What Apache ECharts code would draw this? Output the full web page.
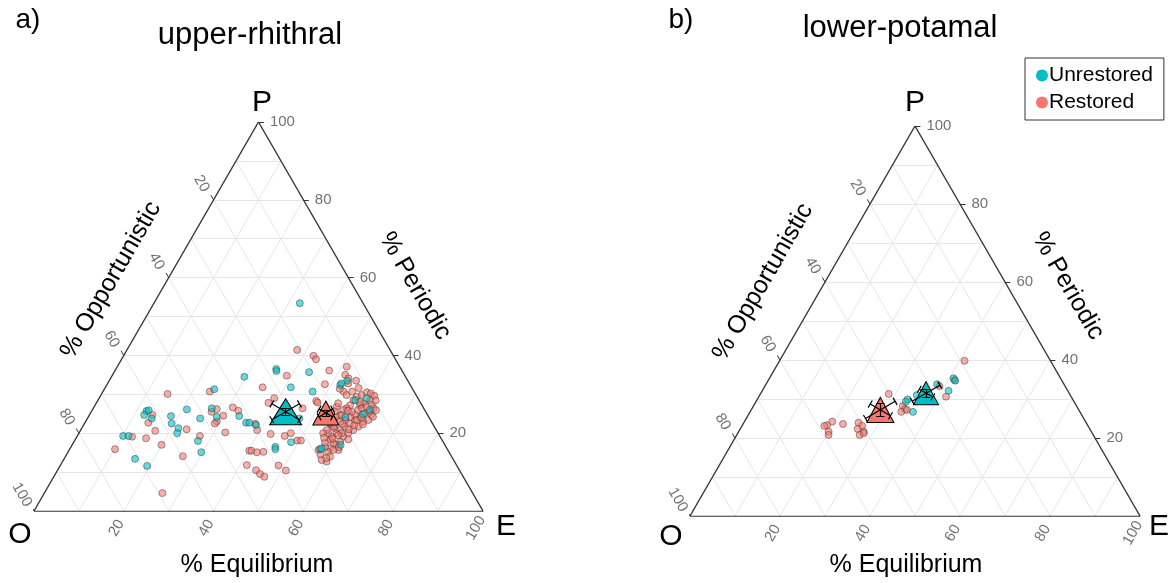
<!DOCTYPE html>
<html>
<head>
<meta charset="utf-8">
<script src="https://cdn.jsdelivr.net/npm/echarts@6/dist/echarts.min.js"></script>
<style>
  html, body { margin: 0; background: #fff; }
  #chart { width: 1173px; height: 583px; }
</style>
</head>
<body>
<div id="chart"></div>
<script>
// ternary values are [E, P]; O = 100 - E - P
const unrestoredA = [
  [24.5,31.3],[12.2,25.7],[12.6,25.9],[12.2,24.7],[14.3,23.8],[21.0,26.1],[18.3,24.4],[19.4,22.5],
  [21.5,21.3],[21.9,20.0],[25.1,23.8],[26.4,26.4],[28.6,24.2],[33.5,24.4],[35.9,22.7],[36.6,22.7],
  [10.2,19.3],[11.4,19.3],[27.5,18.0],[15.8,13.4],[19.4,11.6],[29.7,15.1],[32.5,53.4],[35.7,36.5],
  [36.0,36.0],[43.4,35.7],[29.6,34.5],[41.3,31.8],[46.7,30.7],[52.0,32.4],[47.2,23.8],[38.4,22.1],
  [48.4,17.7],[45.5,16.5],[45.8,15.9],[55.8,15.9],[52.1,32.8],[53.0,33.5],[57.3,28.5],[59.6,29.0],
  [61.8,26.0],[60.8,24.9],[57.3,24.1],[56.0,16.1],[59.8,17.0]
];
const restoredA = [
  [14.7,30.1],[23.8,30.7],[14.0,24.7],[14.1,22.7],[23.5,21.0],[26.8,25.5],[27.6,26.2],[29.9,24.5],
  [29.2,23.0],[29.0,22.5],[31.0,26.6],[32.6,25.8],[32.5,20.2],[16.7,20.6],[12.3,19.1],[15.6,18.7],
  [19.9,17.0],[27.3,19.3],[10.1,15.9],[26.1,14.1],[41.5,11.8],[40.2,15.5],[26.3,4.6],[37.9,41.4],
  [42.3,39.9],[43.3,39.0],[47.7,36.1],[38.9,34.8],[35.0,31.8],[48.5,32.6],[48.7,28.3],[49.2,27.9],
  [39.0,29.0],[38.3,27.8],[46.6,26.4],[54.0,26.8],[39.3,20.8],[42.8,19.8],[46.2,19.3],[47.2,20.0],
  [49.6,18.1],[50.4,18.1],[40.7,15.5],[42.1,15.1],[43.5,15.2],[48.6,11.7],[44.2,10.5],[45.6,9.5],
  [46.9,8.8],[50.9,10.4],[38.1,22.4],
  // dense cluster
  [51.1,37.1],[51.8,35.0],[53.0,34.1],[53.6,30.7],[54.7,29.8],[55.5,30.7],[57.2,29.4],[58.1,29.8],
  [60.6,28.5],[59.5,27.7],[59.0,27.2],[56.9,28.5],[56.8,27.2],[56.4,26.4],[55.9,26.0],[55.8,24.7],
  [55.3,24.2],[55.0,23.4],[55.2,22.1],[56.3,21.3],[57.8,20.8],[58.4,21.7],[59.1,22.5],[59.8,23.4],
  [60.5,24.2],[61.1,25.1],[62.0,25.5],[62.8,24.7],[62.8,23.4],[61.8,23.0],[61.4,21.7],[60.7,20.8],
  [60.0,20.0],[59.3,19.1],[59.3,17.8],[58.9,17.0],[58.0,17.4],[56.8,18.3],[55.5,20.0],[54.8,20.8],
  [56.8,19.1],[60.0,15.7],[57.9,16.1],[57.9,15.2],[56.6,16.5],[54.4,20.0],[53.6,32.8],[55.8,21.7],
  [59.2,26.0],[59.1,24.7],[58.3,24.2],[57.6,23.4],[56.7,23.0],[59.8,26.4],[60.7,26.8],[58.0,25.5],
  [57.4,20.0],[58.5,20.0],[58.8,15.7],[58.9,14.0],[58.8,12.7],[57.5,13.1],[55.5,15.7],[54.2,25.6],
  [53.8,23.8],[54.6,22.6],[57.0,25.8],[58.6,28.0],[61.5,27.3],[62.4,26.4],[63.2,25.9],[63.4,24.2],
  [62.1,22.3],[60.3,22.0],[59.6,21.0],[58.0,19.5],[57.2,18.6],[56.0,17.6],[55.2,18.8],[57.5,22.4],
  [56.2,24.6],[58.9,30.5],[59.9,30.2],[61.0,29.6],[61.9,28.4],[56.5,31.6],[55.0,33.5],[52.4,31.4],
  [53.9,27.7],[60.8,18.4],[59.7,16.4],[58.3,13.6],[56.5,14.6],[60.2,23.4],[61.0,24.0]
];
const unrestoredB = [
  [40.9,35.3],[41.6,34.7],[38.0,33.8],[41.4,32.1],[33.4,29.9],[33.3,29.3],[36.2,26.7],[34.9,31.0]
];
const restoredB = [
  [41.1,39.8],[41.3,34.9],[38.8,33.3],[41.6,30.6],[28.5,31.3],[33.2,28.2],[34.1,27.4],[33.6,26.7],
  [34.6,27.2],[25.5,23.9],[26.7,23.1],[26.1,22.3],[27.8,21.6],[27.3,20.8],[28.0,21.2],[22.2,23.6],
  [19.5,24.2],[18.8,23.3],[18.3,23.1],[20.0,21.6],[20.4,20.8]
];
// group means [E, P] and error sizes [O, P, E]
const meanUnrestoredA = [43.3, 25.5], errUnrestoredA = [4.1, 1.0, 4.1];
const meanRestoredA   = [52.4, 25.2], errRestoredA   = [2.0, 0.8, 2.0];
const meanUnrestoredB = [36.7, 31.5], errUnrestoredB = [4.1, 1.0, 2.0];
const meanRestoredB   = [28.7, 27.2], errRestoredB   = [4.4, 1.7, 3.0];

const tickValues = [20, 40, 60, 80, 100];
const gridSteps = [10, 20, 30, 40, 50, 60, 70, 80, 90];
const panelTitles = ['upper-rhithral', 'lower-potamal'];
const panelTags = ['a)', 'b)'];

const CYAN = '#00BFC4', RED = '#F8766D';
const FONT = '"Liberation Sans", Arial, sans-serif';
const H = Math.sqrt(3) / 2;

function cart(e, p) { return [e + p / 2, p * H]; }

function gridSegments() {
  const segs = [];
  gridSteps.forEach((k) => {
    segs.push({ coords: [cart(0, k), cart(100 - k, k)] });
    segs.push({ coords: [cart(k, 0), cart(k, 100 - k)] });
    segs.push({ coords: [cart(100 - k, 0), cart(0, 100 - k)] });
  });
  return segs;
}

function tickSegments() {
  const t = 1.2, segs = [];
  tickValues.forEach((v) => {
    const b = cart(v, 0), r = cart(100 - v, v), l = cart(0, 100 - v);
    segs.push({ coords: [b, [b[0] - 0.5 * t, b[1] - H * t]] });
    segs.push({ coords: [r, [r[0] + t, r[1]]] });
    segs.push({ coords: [l, [l[0] - 0.5 * t, l[1] + H * t]] });
  });
  return segs;
}

const dirs = [[-H, -0.5], [0, 1], [H, -0.5]]; // toward O, P, E
function errorSegments(mean, err) {
  const c = cart(mean[0], mean[1]), segs = [];
  dirs.forEach((u, k) => {
    const L = err[k] * H;
    const a = [c[0] - L * u[0], c[1] - L * u[1]];
    const b = [c[0] + L * u[0], c[1] + L * u[1]];
    segs.push({ coords: [a, b] });
    const w = 0.9, n = [-u[1], u[0]];
    [a, b].forEach((q) => segs.push({ coords: [[q[0] - w * n[0], q[1] - w * n[1]], [q[0] + w * n[0], q[1] + w * n[1]]] }));
  });
  return segs;
}

const panels = [
  { unres: unrestoredA, res: restoredA, mU: meanUnrestoredA, eU: errUnrestoredA, mR: meanRestoredA, eR: errRestoredA,
    sizeU: [32, 26], sizeR: [26, 24] },
  { unres: unrestoredB, res: restoredB, mU: meanUnrestoredB, eU: errUnrestoredB, mR: meanRestoredB, eR: errRestoredB,
    sizeU: [25, 23], sizeR: [27, 25] },
];

const series = [];
panels.forEach((pn, i) => {
  const ax = { xAxisIndex: i, yAxisIndex: i };
  series.push({ type: 'lines', coordinateSystem: 'cartesian2d', ...ax, silent: true, z: 1,
    lineStyle: { color: '#e6e6e6', width: 1, opacity: 1 }, data: gridSegments() });
  series.push({ type: 'lines', coordinateSystem: 'cartesian2d', ...ax, silent: true, z: 2,
    lineStyle: { color: '#333', width: 1.4, opacity: 1 },
    data: [{ coords: [cart(0, 0), cart(100, 0)] }, { coords: [cart(100, 0), cart(0, 100)] }, { coords: [cart(0, 100), cart(0, 0)] }] });
  series.push({ type: 'lines', coordinateSystem: 'cartesian2d', ...ax, silent: true, z: 2,
    lineStyle: { color: '#333', width: 1, opacity: 1 }, data: tickSegments() });
  const lbl = { show: true, formatter: (p) => p.value[2], fontSize: 15, color: '#4d4d4d', fontFamily: FONT };
  series.push({ type: 'scatter', ...ax, silent: true, clip: false, symbolSize: 0, itemStyle: { color: 'transparent' },
    label: { ...lbl, position: 'inside', rotate: 60 },
    data: tickValues.map((v) => { const b = cart(v, 0); return [b[0] - 1.6, b[1] - 3.8, v]; }) });
  series.push({ type: 'scatter', ...ax, silent: true, clip: false, symbolSize: 0, itemStyle: { color: 'transparent' },
    label: { ...lbl, position: 'right', distance: 6 },
    data: tickValues.map((v) => { const r = cart(100 - v, v); return [r[0] + 1.2, r[1], v]; }) });
  series.push({ type: 'scatter', ...ax, silent: true, clip: false, symbolSize: 0, itemStyle: { color: 'transparent' },
    label: { ...lbl, position: 'inside', rotate: -60 },
    data: tickValues.map((v) => { const l = cart(0, 100 - v); return [l[0] - 2.7, l[1] + 3.6, v]; }) });
  series.push({ name: 'Restored', type: 'scatter', ...ax, z: 4, symbolSize: 7,
    itemStyle: { color: 'rgba(248,118,109,0.75)', borderColor: 'rgba(50,50,50,0.75)', borderWidth: 0.8 },
    data: pn.res.map((d) => cart(d[0], d[1])) });
  series.push({ name: 'Unrestored', type: 'scatter', ...ax, z: 4, symbolSize: 7,
    itemStyle: { color: 'rgba(0,191,196,0.75)', borderColor: 'rgba(50,50,50,0.75)', borderWidth: 0.8 },
    data: pn.unres.map((d) => cart(d[0], d[1])) });
  series.push({ name: 'means', type: 'scatter', ...ax, z: 5, symbol: 'triangle',
    itemStyle: { borderColor: '#000', borderWidth: 1, opacity: 1 },
    data: [
      { value: cart(pn.mU[0], pn.mU[1]), symbolSize: pn.sizeU, itemStyle: { color: CYAN } },
      { value: cart(pn.mR[0], pn.mR[1]), symbolSize: pn.sizeR, itemStyle: { color: RED } },
    ] });
  series.push({ type: 'lines', coordinateSystem: 'cartesian2d', ...ax, silent: true, z: 6,
    lineStyle: { color: '#000', width: 1.2, opacity: 1 },
    data: errorSegments(pn.mU, pn.eU).concat(errorSegments(pn.mR, pn.eR)) });
});

function txt(text, x, y, size, rot, color) {
  return { type: 'text', x, y, rotation: (rot || 0) * Math.PI / 180, z: 10,
    style: { text, fontSize: size, fontFamily: FONT, fill: color || '#000', align: 'center', verticalAlign: 'middle' } };
}

const graphic = [
  txt(panelTags[0], 28, 20, 28), txt(panelTitles[0], 250, 35, 31),
  txt(panelTags[1], 681, 20, 28), txt(panelTitles[1], 900, 28, 31),
  txt('P', 262, 103, 30), txt('O', 20, 535, 30), txt('E', 506, 527, 30),
  txt('P', 915, 103, 30), txt('O', 671, 537, 30), txt('E', 1159, 527, 30),
  txt('% Opportunistic', 111, 280, 25, 60), txt('% Periodic', 415, 286, 25, -60), txt('% Equilibrium', 257, 565, 25),
  txt('% Opportunistic', 763, 282, 25, 60), txt('% Periodic', 1068, 286, 25, -60), txt('% Equilibrium', 906, 565, 25),
];

const chart = echarts.init(document.getElementById('chart'), null, { renderer: 'canvas' });
chart.setOption({
  animation: false,
  backgroundColor: '#fff',
  grid: [
    { left: 34, top: 122, width: 449, height: 389 },
    { left: 690, top: 126, width: 450, height: 390 },
  ],
  xAxis: [0, 1].map((i) => ({ gridIndex: i, type: 'value', min: 0, max: 100, show: false })),
  yAxis: [0, 1].map((i) => ({ gridIndex: i, type: 'value', min: 0, max: 100 * H, show: false })),
  legend: {
    orient: 'vertical', left: 1025, top: 58, selectedMode: false,
    padding: [7, 11, 7, 11], itemGap: 6, itemWidth: 12, itemHeight: 12, icon: 'circle',
    borderColor: '#333', borderWidth: 1, backgroundColor: '#fff',
    textStyle: { fontSize: 21, color: '#000', fontFamily: FONT, padding: [0, 0, 0, -4] },
    data: [
      { name: 'Unrestored', itemStyle: { color: CYAN, borderWidth: 0, opacity: 1 } },
      { name: 'Restored', itemStyle: { color: RED, borderWidth: 0, opacity: 1 } },
    ],
  },
  graphic,
  series,
});
</script>
</body>
</html>
